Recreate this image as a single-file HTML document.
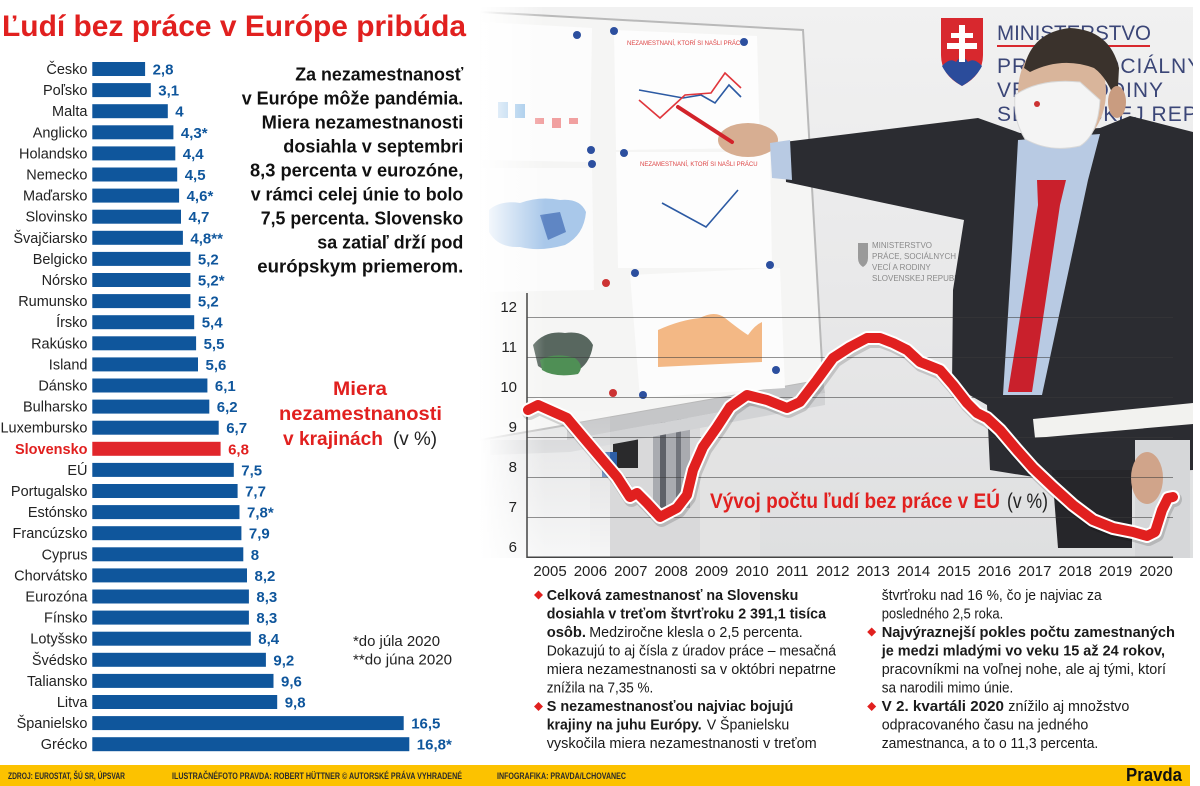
<!DOCTYPE html>
<html>
<head>
<meta charset="utf-8">
<style>
html,body{margin:0;padding:0;background:#fff;}
svg{display:block;}
text{font-family:"Liberation Sans",sans-serif;}
</style>
</head>
<body>
<svg width="1200" height="786" viewBox="0 0 1200 786" xmlns="http://www.w3.org/2000/svg">
<defs>
  <clipPath id="ph"><rect x="480" y="7" width="713" height="551"/></clipPath>
  <linearGradient id="wall" x1="0" y1="0" x2="0" y2="1">
    <stop offset="0" stop-color="#f1f1f1"/>
    <stop offset="0.6" stop-color="#e7e7e8"/>
    <stop offset="1" stop-color="#dedfe0"/>
  </linearGradient>
  <linearGradient id="fadeL" x1="0" y1="0" x2="1" y2="0">
    <stop offset="0" stop-color="#fff" stop-opacity="1"/>
    <stop offset="1" stop-color="#fff" stop-opacity="0"/>
  </linearGradient>
  <linearGradient id="fadeB" x1="0" y1="0" x2="0" y2="1">
    <stop offset="0" stop-color="#fff" stop-opacity="0"/>
    <stop offset="1" stop-color="#fff" stop-opacity="0.75"/>
  </linearGradient>
</defs>

<rect x="0" y="0" width="1200" height="786" fill="#fff"/>

<!-- ===== PHOTO APPROXIMATION ===== -->
<g clip-path="url(#ph)">
  <rect x="480" y="7" width="713" height="551" fill="url(#wall)"/>
  <!-- below-board stuff -->
  <rect x="590" y="400" width="120" height="158" fill="#d9d9da"/>
  <rect x="653" y="418" width="37" height="90" fill="#a9abb0"/>
  <rect x="660" y="418" width="6" height="90" fill="#5e6168"/>
  <rect x="676" y="418" width="5" height="90" fill="#72757c"/>
  <rect x="613" y="433" width="25" height="35" fill="#2a2a2c"/>
  <rect x="602" y="452" width="15" height="25" fill="#2d5ea6"/>
  <rect x="700" y="400" width="60" height="158" fill="#e3e3e3"/>
  <!-- whiteboard -->
  <polygon points="480,12 803,30 823,380 567,425 480,440" fill="#f5f5f4" stroke="#b9b9b9" stroke-width="2"/>
  <polygon points="567,425 823,380 825,393 567,440" fill="#c5c6c8"/>
  <polygon points="490,440 567,440 825,393 825,405 570,452 490,455" fill="#d2d3d5"/>
  <!-- papers -->
  <polygon points="482,22 592,28 590,162 482,160" fill="#fcfcfc"/>
  <rect x="498" y="102" width="10" height="16" fill="#8fbde6"/>
  <rect x="515" y="104" width="10" height="14" fill="#8fbde6"/>
  <rect x="535" y="118" width="9" height="6" fill="#f1a0a0"/>
  <rect x="552" y="118" width="9" height="10" fill="#f1a0a0"/>
  <rect x="569" y="118" width="9" height="6" fill="#f1a0a0"/>
  <polygon points="614,30 757,36 760,148 616,150" fill="#fdfdfd"/>
  <text x="627" y="45" font-size="6" fill="#d44">NEZAMESTNANÍ, KTORÍ SI NAŠLI PRÁCU</text>
  <polyline points="639,90 683,98 701,95 715,103 729,85 741,97" fill="none" stroke="#2c5aa3" stroke-width="1.6"/>
  <polyline points="639,100 660,118 685,95 711,93 725,73 741,88" fill="none" stroke="#e0363c" stroke-width="1.6"/>
  <polygon points="616,152 770,152 772,268 618,268" fill="#fdfdfd"/>
  <text x="640" y="166" font-size="6" fill="#d44">NEZAMESTNANÍ, KTORÍ SI NAŠLI PRÁCU</text>
  <polyline points="662,203 706,227 738,190" fill="none" stroke="#2c5aa3" stroke-width="1.6"/>
  <polygon points="482,168 592,168 594,290 484,292" fill="#fbfbfb"/>
  <path d="M489,210 Q500,200 520,203 Q540,196 560,200 Q580,198 586,212 Q584,235 565,245 Q540,252 520,247 Q498,248 489,232 Z" fill="#a9c8ea"/>
  <path d="M540,215 L560,212 L566,232 L548,240 Z" fill="#5f86c4"/>
  <polygon points="630,275 780,268 785,388 640,398" fill="#fcfcfc"/>
  <path d="M658,367 L658,330 Q680,320 700,318 Q715,310 725,318 Q740,330 748,335 Q755,325 762,322 L762,362 Z" fill="#f3b885"/>
  <path d="M533,345 Q545,330 565,333 Q585,330 593,345 Q590,365 575,372 Q552,376 538,366 Z" fill="#58675f"/>
  <path d="M540,360 Q555,352 575,358 Q585,366 578,374 Q555,378 542,370 Z" fill="#4f8f55"/>
  <!-- magnets -->
  <g fill="#2c4f9f">
    <circle cx="577" cy="35" r="4"/><circle cx="614" cy="31" r="4"/><circle cx="744" cy="42" r="4"/>
    <circle cx="591" cy="150" r="4"/><circle cx="624" cy="153" r="4"/><circle cx="592" cy="164" r="4"/>
    <circle cx="635" cy="273" r="4"/><circle cx="770" cy="265" r="4"/><circle cx="643" cy="395" r="4"/>
    <circle cx="776" cy="370" r="4"/>
  </g>
  <circle cx="606" cy="283" r="4" fill="#c33"/>
  <circle cx="613" cy="393" r="4" fill="#c33"/>
  <!-- wall logo -->
  <path d="M941,18 H983 V55 Q983,75 962,86 Q941,75 941,55 Z" fill="#d8282e"/>
  <path d="M942,66 Q950,57 956,62 Q962,53 968,62 Q974,57 982,66 Q976,78 962,86 Q948,78 942,66 Z" fill="#2b4c9b"/>
  <rect x="959" y="25" width="6" height="37" fill="#fff"/>
  <rect x="951" y="33" width="22" height="5" fill="#fff"/>
  <rect x="947" y="43" width="30" height="6" fill="#fff"/>
  <text x="997" y="40" font-size="21" fill="#3b4677" textLength="154" lengthAdjust="spacingAndGlyphs">MINISTERSTVO</text>
  <rect x="997" y="45" width="153" height="2" fill="#d8282e"/>
  <text x="997" y="73" font-size="21" fill="#3b4677" letter-spacing="1">PRÁCE, SOCIÁLNYCH</text>
  <text x="997" y="97" font-size="21" fill="#3b4677" letter-spacing="1">VECÍ A RODINY</text>
  <text x="997" y="121" font-size="21" fill="#3b4677" letter-spacing="1">SLOVENSKEJ REPUBLIKY</text>
  <!-- small wall logo -->
  <path d="M858,243 H868 V258 Q868,264 863,267 Q858,264 858,258 Z" fill="#9a9a9a"/>
  <g font-size="8" fill="#8a8a8a">
    <text x="872" y="248">MINISTERSTVO</text>
    <text x="872" y="259">PRÁCE, SOCIÁLNYCH</text>
    <text x="872" y="270">VECÍ A RODINY</text>
    <text x="872" y="281">SLOVENSKEJ REPUBLIKY</text>
  </g>
  <!-- man -->
  <polygon points="784,142 978,118 1020,133 1100,128 1130,116 1193,132 1193,470 1150,472 1130,478 1040,478 990,470 987,405 952,385 953,290 964,220 786,182" fill="#2b2c31"/>
  <polygon points="1052,470 1132,470 1132,548 1058,548" fill="#26262a"/>
  <polygon points="1018,140 1100,134 1088,180 1042,395 1003,395 1012,250" fill="#b8cae3"/>
  <polygon points="1037,180 1066,180 1060,205 1032,392 1008,392 1038,205" fill="#c9202c"/>
  <ellipse cx="1062" cy="92" rx="44" ry="56" fill="#d9b59b"/>
  <path d="M1024,68 Q1032,32 1070,28 Q1110,30 1119,68 L1117,105 Q1108,78 1094,68 Q1062,56 1030,72 Z" fill="#3a322c"/>
  <ellipse cx="1117" cy="102" rx="9" ry="16" fill="#c99c80"/>
  <path d="M1015,95 Q1040,78 1080,82 L1100,100 Q1098,135 1080,146 Q1050,153 1025,139 Q1013,120 1015,95 Z" fill="#f4f4f4" stroke="#d8d8d8" stroke-width="1"/>
  <circle cx="1037" cy="104" r="3" fill="#c33"/>
  <ellipse cx="748" cy="140" rx="30" ry="17" fill="#d7ae92"/>
  <polygon points="770,143 790,140 792,180 772,178" fill="#b8cae3"/>
  <line x1="678" y1="107" x2="732" y2="142" stroke="#d2232a" stroke-width="4" stroke-linecap="round"/>
  <rect x="1135" y="440" width="55" height="118" fill="#d6d7d9"/>
  <ellipse cx="1147" cy="478" rx="16" ry="26" fill="#d0a48a"/>
  <polygon points="1033,419 1193,403 1193,424 1035,438" fill="#f2f2ef"/>
</g>
<!-- fades -->
<rect x="480" y="7" width="65" height="551" fill="url(#fadeL)"/>
<rect x="480" y="400" width="130" height="158" fill="url(#fadeB)"/>

<!-- ===== TITLE ===== -->
<text x="2" y="36" font-size="30" font-weight="bold" fill="#e1201f" textLength="464" lengthAdjust="spacingAndGlyphs">Ľudí bez práce v Európe pribúda</text>

<!-- ===== BAR CHART ===== -->
<g font-size="14.5" fill="#222">
<g transform="translate(0,69)"><text x="87.5" y="5" text-anchor="end">Česko</text><rect x="92.3" y="-7" width="52.8" height="14" fill="#0f569c"/><text x="152.6" y="5.5" font-size="15" font-weight="bold" fill="#0f569c">2,8</text></g>
<g transform="translate(0,90.1)"><text x="87.5" y="5" text-anchor="end">Poľsko</text><rect x="92.3" y="-7" width="58.5" height="14" fill="#0f569c"/><text x="158.3" y="5.5" font-size="15" font-weight="bold" fill="#0f569c">3,1</text></g>
<g transform="translate(0,111.2)"><text x="87.5" y="5" text-anchor="end">Malta</text><rect x="92.3" y="-7" width="75.5" height="14" fill="#0f569c"/><text x="175.3" y="5.5" font-size="15" font-weight="bold" fill="#0f569c">4</text></g>
<g transform="translate(0,132.3)"><text x="87.5" y="5" text-anchor="end">Anglicko</text><rect x="92.3" y="-7" width="81.1" height="14" fill="#0f569c"/><text x="180.9" y="5.5" font-size="15" font-weight="bold" fill="#0f569c">4,3*</text></g>
<g transform="translate(0,153.4)"><text x="87.5" y="5" text-anchor="end">Holandsko</text><rect x="92.3" y="-7" width="83.0" height="14" fill="#0f569c"/><text x="182.8" y="5.5" font-size="15" font-weight="bold" fill="#0f569c">4,4</text></g>
<g transform="translate(0,174.5)"><text x="87.5" y="5" text-anchor="end">Nemecko</text><rect x="92.3" y="-7" width="84.9" height="14" fill="#0f569c"/><text x="184.7" y="5.5" font-size="15" font-weight="bold" fill="#0f569c">4,5</text></g>
<g transform="translate(0,195.6)"><text x="87.5" y="5" text-anchor="end">Maďarsko</text><rect x="92.3" y="-7" width="86.8" height="14" fill="#0f569c"/><text x="186.6" y="5.5" font-size="15" font-weight="bold" fill="#0f569c">4,6*</text></g>
<g transform="translate(0,216.7)"><text x="87.5" y="5" text-anchor="end">Slovinsko</text><rect x="92.3" y="-7" width="88.7" height="14" fill="#0f569c"/><text x="188.5" y="5.5" font-size="15" font-weight="bold" fill="#0f569c">4,7</text></g>
<g transform="translate(0,237.8)"><text x="87.5" y="5" text-anchor="end">Švajčiarsko</text><rect x="92.3" y="-7" width="90.6" height="14" fill="#0f569c"/><text x="190.4" y="5.5" font-size="15" font-weight="bold" fill="#0f569c">4,8**</text></g>
<g transform="translate(0,258.9)"><text x="87.5" y="5" text-anchor="end">Belgicko</text><rect x="92.3" y="-7" width="98.1" height="14" fill="#0f569c"/><text x="197.9" y="5.5" font-size="15" font-weight="bold" fill="#0f569c">5,2</text></g>
<g transform="translate(0,280)"><text x="87.5" y="5" text-anchor="end">Nórsko</text><rect x="92.3" y="-7" width="98.1" height="14" fill="#0f569c"/><text x="197.9" y="5.5" font-size="15" font-weight="bold" fill="#0f569c">5,2*</text></g>
<g transform="translate(0,301.1)"><text x="87.5" y="5" text-anchor="end">Rumunsko</text><rect x="92.3" y="-7" width="98.1" height="14" fill="#0f569c"/><text x="197.9" y="5.5" font-size="15" font-weight="bold" fill="#0f569c">5,2</text></g>
<g transform="translate(0,322.2)"><text x="87.5" y="5" text-anchor="end">Írsko</text><rect x="92.3" y="-7" width="101.9" height="14" fill="#0f569c"/><text x="201.7" y="5.5" font-size="15" font-weight="bold" fill="#0f569c">5,4</text></g>
<g transform="translate(0,343.3)"><text x="87.5" y="5" text-anchor="end">Rakúsko</text><rect x="92.3" y="-7" width="103.8" height="14" fill="#0f569c"/><text x="203.6" y="5.5" font-size="15" font-weight="bold" fill="#0f569c">5,5</text></g>
<g transform="translate(0,364.4)"><text x="87.5" y="5" text-anchor="end">Island</text><rect x="92.3" y="-7" width="105.7" height="14" fill="#0f569c"/><text x="205.5" y="5.5" font-size="15" font-weight="bold" fill="#0f569c">5,6</text></g>
<g transform="translate(0,385.5)"><text x="87.5" y="5" text-anchor="end">Dánsko</text><rect x="92.3" y="-7" width="115.1" height="14" fill="#0f569c"/><text x="214.9" y="5.5" font-size="15" font-weight="bold" fill="#0f569c">6,1</text></g>
<g transform="translate(0,406.6)"><text x="87.5" y="5" text-anchor="end">Bulharsko</text><rect x="92.3" y="-7" width="117.0" height="14" fill="#0f569c"/><text x="216.8" y="5.5" font-size="15" font-weight="bold" fill="#0f569c">6,2</text></g>
<g transform="translate(0,427.7)"><text x="87.5" y="5" text-anchor="end">Luxembursko</text><rect x="92.3" y="-7" width="126.4" height="14" fill="#0f569c"/><text x="226.2" y="5.5" font-size="15" font-weight="bold" fill="#0f569c">6,7</text></g>
<g transform="translate(0,448.8)"><text x="87.5" y="5" text-anchor="end" font-weight="bold" fill="#e1201f">Slovensko</text><rect x="92.3" y="-7" width="128.3" height="14" fill="#e1262b"/><text x="228.1" y="5.5" font-size="15" font-weight="bold" fill="#e1201f">6,8</text></g>
<g transform="translate(0,469.9)"><text x="87.5" y="5" text-anchor="end">EÚ</text><rect x="92.3" y="-7" width="141.5" height="14" fill="#0f569c"/><text x="241.3" y="5.5" font-size="15" font-weight="bold" fill="#0f569c">7,5</text></g>
<g transform="translate(0,491)"><text x="87.5" y="5" text-anchor="end">Portugalsko</text><rect x="92.3" y="-7" width="145.3" height="14" fill="#0f569c"/><text x="245.1" y="5.5" font-size="15" font-weight="bold" fill="#0f569c">7,7</text></g>
<g transform="translate(0,512.1)"><text x="87.5" y="5" text-anchor="end">Estónsko</text><rect x="92.3" y="-7" width="147.2" height="14" fill="#0f569c"/><text x="247" y="5.5" font-size="15" font-weight="bold" fill="#0f569c">7,8*</text></g>
<g transform="translate(0,533.2)"><text x="87.5" y="5" text-anchor="end">Francúzsko</text><rect x="92.3" y="-7" width="149.1" height="14" fill="#0f569c"/><text x="248.9" y="5.5" font-size="15" font-weight="bold" fill="#0f569c">7,9</text></g>
<g transform="translate(0,554.3)"><text x="87.5" y="5" text-anchor="end">Cyprus</text><rect x="92.3" y="-7" width="151.0" height="14" fill="#0f569c"/><text x="250.8" y="5.5" font-size="15" font-weight="bold" fill="#0f569c">8</text></g>
<g transform="translate(0,575.4)"><text x="87.5" y="5" text-anchor="end">Chorvátsko</text><rect x="92.3" y="-7" width="154.7" height="14" fill="#0f569c"/><text x="254.5" y="5.5" font-size="15" font-weight="bold" fill="#0f569c">8,2</text></g>
<g transform="translate(0,596.5)"><text x="87.5" y="5" text-anchor="end">Eurozóna</text><rect x="92.3" y="-7" width="156.6" height="14" fill="#0f569c"/><text x="256.4" y="5.5" font-size="15" font-weight="bold" fill="#0f569c">8,3</text></g>
<g transform="translate(0,617.6)"><text x="87.5" y="5" text-anchor="end">Fínsko</text><rect x="92.3" y="-7" width="156.6" height="14" fill="#0f569c"/><text x="256.4" y="5.5" font-size="15" font-weight="bold" fill="#0f569c">8,3</text></g>
<g transform="translate(0,638.7)"><text x="87.5" y="5" text-anchor="end">Lotyšsko</text><rect x="92.3" y="-7" width="158.5" height="14" fill="#0f569c"/><text x="258.3" y="5.5" font-size="15" font-weight="bold" fill="#0f569c">8,4</text></g>
<g transform="translate(0,659.8)"><text x="87.5" y="5" text-anchor="end">Švédsko</text><rect x="92.3" y="-7" width="173.6" height="14" fill="#0f569c"/><text x="273.4" y="5.5" font-size="15" font-weight="bold" fill="#0f569c">9,2</text></g>
<g transform="translate(0,680.9)"><text x="87.5" y="5" text-anchor="end">Taliansko</text><rect x="92.3" y="-7" width="181.2" height="14" fill="#0f569c"/><text x="281" y="5.5" font-size="15" font-weight="bold" fill="#0f569c">9,6</text></g>
<g transform="translate(0,702)"><text x="87.5" y="5" text-anchor="end">Litva</text><rect x="92.3" y="-7" width="184.9" height="14" fill="#0f569c"/><text x="284.7" y="5.5" font-size="15" font-weight="bold" fill="#0f569c">9,8</text></g>
<g transform="translate(0,723.1)"><text x="87.5" y="5" text-anchor="end">Španielsko</text><rect x="92.3" y="-7" width="311.4" height="14" fill="#0f569c"/><text x="411.2" y="5.5" font-size="15" font-weight="bold" fill="#0f569c">16,5</text></g>
<g transform="translate(0,744.2)"><text x="87.5" y="5" text-anchor="end">Grécko</text><rect x="92.3" y="-7" width="317.0" height="14" fill="#0f569c"/><text x="416.8" y="5.5" font-size="15" font-weight="bold" fill="#0f569c">16,8*</text></g>
</g>

<!-- right paragraph -->
<g font-size="18" font-weight="bold" fill="#111" text-anchor="end">
  <text x="463.3" y="80.5" textLength="168" lengthAdjust="spacingAndGlyphs">Za nezamestnanosť</text>
  <text x="463.3" y="104.5" textLength="221.6" lengthAdjust="spacingAndGlyphs">v Európe môže pandémia.</text>
  <text x="463.3" y="128.5" textLength="201.6" lengthAdjust="spacingAndGlyphs">Miera nezamestnanosti</text>
  <text x="463.3" y="152.5" textLength="180" lengthAdjust="spacingAndGlyphs">dosiahla v septembri</text>
  <text x="463.3" y="176.5" textLength="213.3" lengthAdjust="spacingAndGlyphs">8,3 percenta v eurozóne,</text>
  <text x="463.3" y="200.5" textLength="212.6" lengthAdjust="spacingAndGlyphs">v rámci celej únie to bolo</text>
  <text x="463.3" y="224.5" textLength="202.6" lengthAdjust="spacingAndGlyphs">7,5 percenta. Slovensko</text>
  <text x="463.3" y="248.5" textLength="146" lengthAdjust="spacingAndGlyphs">sa zatiaľ drží pod</text>
  <text x="463.3" y="272.5" textLength="206" lengthAdjust="spacingAndGlyphs">európskym priemerom.</text>
</g>

<!-- bar chart legend title -->
<text x="333" y="395" font-size="19" font-weight="bold" fill="#e1201f" textLength="54" lengthAdjust="spacingAndGlyphs">Miera</text>
<text x="279" y="420" font-size="19" font-weight="bold" fill="#e1201f" textLength="163" lengthAdjust="spacingAndGlyphs">nezamestnanosti</text>
<text x="283" y="445" font-size="19" font-weight="bold" fill="#e1201f" textLength="100" lengthAdjust="spacingAndGlyphs">v krajinách</text>
<text x="393" y="445" font-size="19" fill="#222" textLength="44" lengthAdjust="spacingAndGlyphs">(v %)</text>

<!-- footnotes -->
<text x="353" y="646" font-size="15" fill="#222" textLength="87" lengthAdjust="spacingAndGlyphs">*do júla 2020</text>
<text x="353" y="664.5" font-size="15" fill="#222" textLength="99" lengthAdjust="spacingAndGlyphs">**do júna 2020</text>

<!-- ===== LINE CHART ===== -->
<g stroke="#3a3a3a" stroke-opacity="0.55" stroke-width="1">
  <line x1="527" y1="317.5" x2="1173" y2="317.5"/>
  <line x1="527" y1="357.5" x2="1173" y2="357.5"/>
  <line x1="527" y1="397.5" x2="1173" y2="397.5"/>
  <line x1="527" y1="437.5" x2="1173" y2="437.5"/>
  <line x1="527" y1="477.5" x2="1173" y2="477.5"/>
  <line x1="527" y1="517.5" x2="1173" y2="517.5"/>
</g>
<line x1="527" y1="293" x2="527" y2="558" stroke="#444" stroke-width="1.5"/>
<line x1="527" y1="557.3" x2="1173" y2="557.3" stroke="#444" stroke-width="1.5"/>

<g font-size="15" fill="#222" text-anchor="end">
  <text x="517" y="312">12</text>
  <text x="517" y="352">11</text>
  <text x="517" y="392">10</text>
  <text x="517" y="432">9</text>
  <text x="517" y="472">8</text>
  <text x="517" y="512">7</text>
  <text x="517" y="552">6</text>
</g>
<g font-size="15" fill="#222" text-anchor="middle">
  <text x="550" y="576">2005</text>
  <text x="590.4" y="576">2006</text>
  <text x="630.8" y="576">2007</text>
  <text x="671.2" y="576">2008</text>
  <text x="711.6" y="576">2009</text>
  <text x="752" y="576">2010</text>
  <text x="792.4" y="576">2011</text>
  <text x="832.8" y="576">2012</text>
  <text x="873.2" y="576">2013</text>
  <text x="913.6" y="576">2014</text>
  <text x="954" y="576">2015</text>
  <text x="994.4" y="576">2016</text>
  <text x="1034.8" y="576">2017</text>
  <text x="1075.2" y="576">2018</text>
  <text x="1115.6" y="576">2019</text>
  <text x="1156" y="576">2020</text>
</g>

<!-- red series -->
<g fill="none" stroke-linejoin="round" stroke-linecap="round">
  <polyline transform="translate(1.5,2.5)" stroke="#000" stroke-opacity="0.15" stroke-width="15" points="528,410 538,405 567,418 583,437 600,457 617,477 630,497 637,493 647,503 660,517 677,508 687,495 693,470 703,447 717,427 730,407 747,395 767,400 787,408 800,402 817,380 833,358 850,347 867,338 880,338 893,343 907,350 920,362 930,366 940,370 953,385 967,403 977,413 987,418 1000,430 1017,450 1033,468 1053,487 1073,505 1093,520 1113,528 1133,532 1147,536 1155,532 1162,510 1168,498 1173,497"/>
  <polyline stroke="#fff" stroke-width="14" points="528,410 538,405 567,418 583,437 600,457 617,477 630,497 637,493 647,503 660,517 677,508 687,495 693,470 703,447 717,427 730,407 747,395 767,400 787,408 800,402 817,380 833,358 850,347 867,338 880,338 893,343 907,350 920,362 930,366 940,370 953,385 967,403 977,413 987,418 1000,430 1017,450 1033,468 1053,487 1073,505 1093,520 1113,528 1133,532 1147,536 1155,532 1162,510 1168,498 1173,497"/>
  <polyline stroke="#e1201f" stroke-width="10" points="528,410 538,405 567,418 583,437 600,457 617,477 630,497 637,493 647,503 660,517 677,508 687,495 693,470 703,447 717,427 730,407 747,395 767,400 787,408 800,402 817,380 833,358 850,347 867,338 880,338 893,343 907,350 920,362 930,366 940,370 953,385 967,403 977,413 987,418 1000,430 1017,450 1033,468 1053,487 1073,505 1093,520 1113,528 1133,532 1147,536 1155,532 1162,510 1168,498 1173,497"/>
</g>

<text x="710" y="508" font-size="21" font-weight="bold" fill="#e1201f" textLength="290" lengthAdjust="spacingAndGlyphs">Vývoj počtu ľudí bez práce v EÚ</text>
<text x="1007" y="508" font-size="21" fill="#222" textLength="41" lengthAdjust="spacingAndGlyphs">(v %)</text>

<!-- ===== BOTTOM TEXT ===== -->
<g fill="#e1201f">
  <polygon points="538.5,590.5 543,595 538.5,599.5 534,595"/>
  <polygon points="538.5,702 543,706.5 538.5,711 534,706.5"/>
  <polygon points="871.7,627.5 876.2,632 871.7,636.5 867.2,632"/>
  <polygon points="871.7,702 876.2,706.5 871.7,711 867.2,706.5"/>
</g>
<g font-size="15" fill="#1a1a1a">
  <text x="546.7" y="600" font-weight="bold" textLength="251.6" lengthAdjust="spacingAndGlyphs">Celková zamestnanosť na Slovensku</text>
  <text x="546.7" y="618.5" font-weight="bold" textLength="279.3" lengthAdjust="spacingAndGlyphs">dosiahla v treťom štvrťroku 2 391,1 tisíca</text>
  <text x="546.7" y="637" font-weight="bold" textLength="39.3" lengthAdjust="spacingAndGlyphs">osôb.</text>
  <text x="589.3" y="637" textLength="213.4" lengthAdjust="spacingAndGlyphs">Medziročne klesla o 2,5 percenta.</text>
  <text x="546.7" y="655.5" textLength="289.3" lengthAdjust="spacingAndGlyphs">Dokazujú to aj čísla z úradov práce – mesačná</text>
  <text x="546.7" y="674" textLength="289.3" lengthAdjust="spacingAndGlyphs">miera nezamestnanosti sa v októbri nepatrne</text>
  <text x="546.7" y="692.5" textLength="106.6" lengthAdjust="spacingAndGlyphs">znížila na 7,35 %.</text>
  <text x="546.7" y="711" font-weight="bold" textLength="246.6" lengthAdjust="spacingAndGlyphs">S nezamestnanosťou najviac bojujú</text>
  <text x="546.7" y="729.5" font-weight="bold" textLength="155" lengthAdjust="spacingAndGlyphs">krajiny na juhu Európy.</text>
  <text x="706.7" y="729.5" textLength="82.6" lengthAdjust="spacingAndGlyphs">V Španielsku</text>
  <text x="546.7" y="748" textLength="270" lengthAdjust="spacingAndGlyphs">vyskočila miera nezamestnanosti v treťom</text>

  <text x="881.7" y="600" textLength="220" lengthAdjust="spacingAndGlyphs">štvrťroku nad 16 %, čo je najviac za</text>
  <text x="881.7" y="618.5" textLength="121.6" lengthAdjust="spacingAndGlyphs">posledného 2,5 roka.</text>
  <text x="881.7" y="637" font-weight="bold" textLength="293.3" lengthAdjust="spacingAndGlyphs">Najvýraznejší pokles počtu zamestnaných</text>
  <text x="881.7" y="655.5" font-weight="bold" textLength="283.3" lengthAdjust="spacingAndGlyphs">je medzi mladými vo veku 15 až 24 rokov,</text>
  <text x="881.7" y="674" textLength="284.3" lengthAdjust="spacingAndGlyphs">pracovníkmi na voľnej nohe, ale aj tými, ktorí</text>
  <text x="881.7" y="692.5" textLength="131.6" lengthAdjust="spacingAndGlyphs">sa narodili mimo únie.</text>
  <text x="881.7" y="711" font-weight="bold" textLength="122.3" lengthAdjust="spacingAndGlyphs">V 2. kvartáli 2020</text>
  <text x="1008.3" y="711" textLength="121" lengthAdjust="spacingAndGlyphs">znížilo aj množstvo</text>
  <text x="881.7" y="729.5" textLength="206.6" lengthAdjust="spacingAndGlyphs">odpracovaného času na jedného</text>
  <text x="881.7" y="748" textLength="216.6" lengthAdjust="spacingAndGlyphs">zamestnanca, a to o 11,3 percenta.</text>
</g>

<!-- ===== FOOTER ===== -->
<rect x="0" y="765" width="1190" height="21" fill="#fcc200"/>
<g font-size="9" font-weight="bold" fill="#2a2a2a">
  <text x="8" y="779" textLength="117" lengthAdjust="spacingAndGlyphs">ZDROJ: EUROSTAT, ŠÚ SR, ÚPSVAR</text>
  <text x="172" y="779" textLength="290" lengthAdjust="spacingAndGlyphs">ILUSTRAČNÉFOTO PRAVDA: ROBERT HÜTTNER © AUTORSKÉ PRÁVA VYHRADENÉ</text>
  <text x="497" y="779" textLength="129" lengthAdjust="spacingAndGlyphs">INFOGRAFIKA: PRAVDA/LCHOVANEC</text>
</g>
<text x="1126" y="781" font-family="Liberation Serif, serif" font-size="18" font-weight="bold" fill="#111" textLength="56" lengthAdjust="spacingAndGlyphs">Pravda</text>
</svg>
</body>
</html>
